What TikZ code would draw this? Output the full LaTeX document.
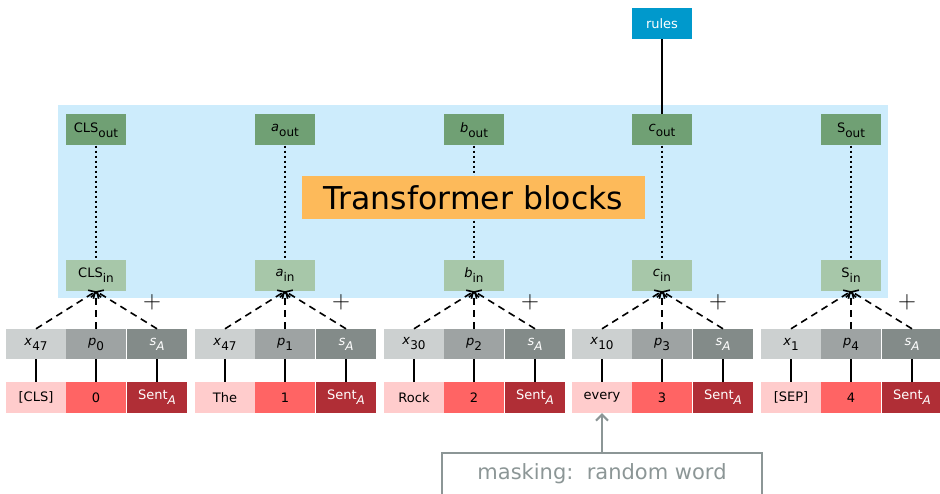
\documentclass[tikz,border=0pt]{standalone}
\usepackage{fontspec}
\usepackage{amsmath}
\setmainfont{DejaVu Sans}
\usetikzlibrary{arrows.meta,positioning}

\definecolor{bgblue}{RGB}{205,236,252}
\definecolor{blockorange}{RGB}{253,186,90}
\definecolor{outgreen}{RGB}{112,160,116}
\definecolor{ingreen}{RGB}{167,199,169}
\definecolor{rulesblue}{RGB}{0,153,204}
\definecolor{xgray}{RGB}{204,208,208}
\definecolor{pgray}{RGB}{158,163,163}
\definecolor{sgray}{RGB}{131,139,137}
\definecolor{wordpink}{RGB}{255,204,204}
\definecolor{posred}{RGB}{255,100,100}
\definecolor{sentred}{RGB}{176,46,54}
\definecolor{maskgray}{RGB}{140,150,150}

\newcommand{\sbs}[2]{#1\raisebox{-5pt}{\fontsize{12}{12}\selectfont #2}}

\tikzset{
  box/.style={minimum width=60pt, minimum height=31pt, inner sep=0pt,
    font=\fontsize{13}{15}\selectfont},
  outbox/.style={box, fill=outgreen},
  inbox/.style={box, fill=ingreen},
  xbox/.style={box, minimum height=30pt, fill=xgray},
  pbox/.style={box, minimum height=30pt, fill=pgray},
  sbox/.style={box, minimum height=30pt, fill=sgray, text=white},
  wordbox/.style={box, fill=wordpink},
  posbox/.style={box, fill=posred},
  sentbox/.style={box, fill=sentred, text=white},
  dotlink/.style={line width=2pt, dash pattern=on 2pt off 3pt},
  sumlink/.style={line width=1.6pt, dash pattern=on 7pt off 5pt, -{Straight Barb[length=5pt,width=10pt]}},
  embedlink/.style={line width=2pt},
  plus/.style={font=\fontsize{30}{30}\selectfont, inner sep=0pt, text=black}
}

\begin{document}
\begin{tikzpicture}[x=1pt,y=-1pt]
\useasboundingbox (0,0) rectangle (940,494);

\fill[bgblue] (58,105) rectangle (888,298);

\foreach \cx/\nm/\tok/\xi/\word [count=\k from 0] in
    {96/cls/CLS/47/[CLS], 285/a/\textit{a}/47/The, 474/b/\textit{b}/30/Rock,
     662/c/\textit{c}/10/every, 851/s/S/1/[SEP]}
{
  \node[outbox] (\nm-out) at (\cx,130) {\sbs{\tok}{out}};
  \node[inbox] (\nm-in) at (\cx,275.5) {\sbs{\tok}{in}};
  \node[xbox] (\nm-x) at ({\cx-60},344) {\sbs{\textit{x}}{\xi}};
  \node[pbox] (\nm-p) at (\cx,344) {\sbs{\textit{p}}{\k}};
  \node[sbox] (\nm-s) at ({\cx+61},344) {\sbs{\textit{s}}{\itshape A}};
  \node[wordbox] (\nm-w) at ({\cx-60},397.5) {\word};
  \node[posbox] (\nm-pos) at (\cx,397.5) {\k};
  \node[sentbox] (\nm-sent) at ({\cx+61},397.5) {\sbs{Sent}{\itshape A}};

  \draw[dotlink] (\nm-out) -- (\nm-in);
  \foreach \e in {x,p,s}
    \draw[sumlink] (\nm-\e.north) -- (\nm-in.south);
  \draw[embedlink] (\nm-w) -- (\nm-x);
  \draw[embedlink] (\nm-pos) -- (\nm-p);
  \draw[embedlink] (\nm-sent) -- (\nm-s);
  \node[plus] (\nm-plus) at ({\cx+56},302) {$+$};
}

\node[fill=blockorange, minimum width=343pt, minimum height=43pt, inner sep=0pt,
  font=\fontsize{31.5}{33}\selectfont] (blocks) at (473.5,197.5) {Transformer blocks};

\node[box, fill=rulesblue, text=white] (rules) at (662,23.5) {rules};
\draw[line width=2pt] (rules) -- (c-out);

\node[draw=maskgray, line width=1.5pt, anchor=north, minimum width=320pt,
  inner sep=0pt, text height=27pt, text depth=21pt, text=maskgray,
  font=\fontsize{21}{23}\selectfont] (mask) at (602,452) {masking:\ \ random word};
\draw[maskgray, line width=2pt, -{Straight Barb[length=6pt,width=12pt]}] (mask.north) -- (c-w.south);
\end{tikzpicture}
\end{document}
